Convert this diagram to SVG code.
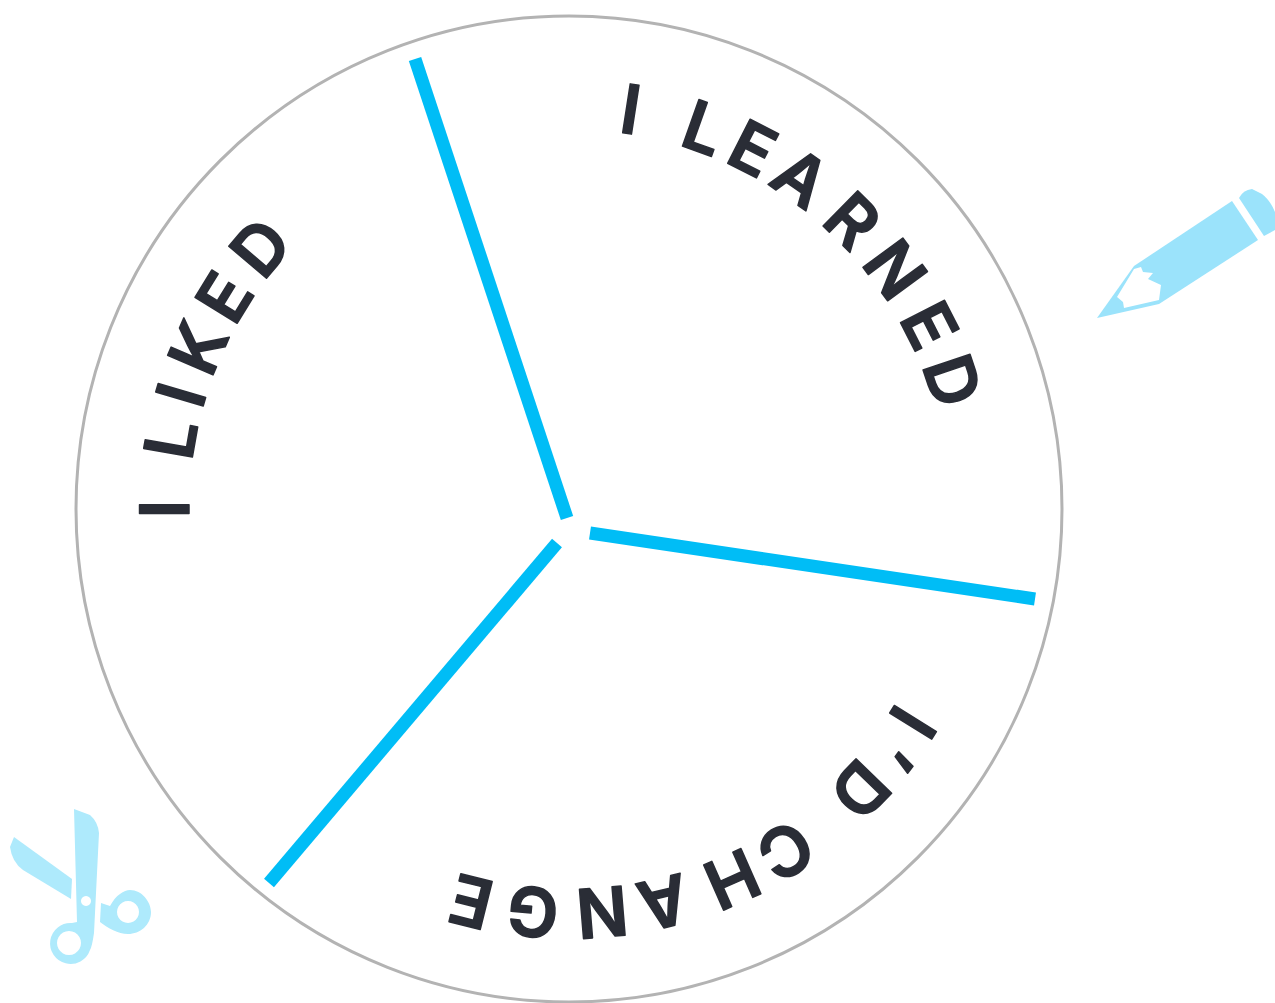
<svg xmlns="http://www.w3.org/2000/svg" width="1275" height="1003" viewBox="0 0 1275 1003">
<style>
.lbl text{font-family:Inter,"Open Sans","Liberation Sans",sans-serif;font-weight:600;font-size:68px;fill:#2a2d36;stroke:#2a2d36;stroke-width:1.5;stroke-linejoin:round;text-anchor:middle;text-rendering:geometricPrecision}
.div{stroke:#00bdf6;stroke-width:13;fill:none}
.sc{fill:#aeeafc}
.pc{fill:#9be3fb}
</style>
<rect width="1275" height="1003" fill="#fff"/>
<g id="wheel"><circle cx="569" cy="509" r="493" fill="#fff" stroke="#b3b3b3" stroke-width="3"/></g>
<g id="connectors">
<line class="div" x1="415" y1="59" x2="567" y2="518"/>
<line class="div" x1="590" y1="533" x2="1035" y2="599"/>
<line class="div" x1="557" y1="543" x2="269" y2="883"/>
</g>
<g id="label-liked" class="lbl">
<text x="569" y="129" transform="rotate(270 569 509)">I</text>
<text x="569" y="129" transform="rotate(280 569 509)">L</text>
<text x="569" y="129" transform="rotate(286.4 569 509)">I</text>
<text x="569" y="129" transform="rotate(293.5 569 509)">K</text>
<text x="569" y="129" transform="rotate(301.6 569 509)">E</text>
<text x="569" y="129" transform="rotate(310.3 569 509)">D</text>
</g>
<g id="label-learned" class="lbl">
<text x="569" y="129" transform="rotate(8.8 569 509)">I</text>
<text x="569" y="129" transform="rotate(19.5 569 509)">L</text>
<text x="569" y="129" transform="rotate(27 569 509)">E</text>
<text x="569" y="129" transform="rotate(35 569 509)">A</text>
<text x="569" y="129" transform="rotate(44.5 569 509)">R</text>
<text x="569" y="129" transform="rotate(53.7 569 509)">N</text>
<text x="569" y="129" transform="rotate(63 569 509)">E</text>
<text x="569" y="129" transform="rotate(71.5 569 509)">D</text>
</g>
<g id="label-change" class="lbl">
<text x="569" y="129" transform="rotate(121.8 569 509)">I</text>
<text x="569" y="129" transform="rotate(127 569 509)">’</text>
<text x="569" y="129" transform="rotate(134 569 509)">D</text>
<text x="569" y="129" transform="rotate(147.6 569 509)">C</text>
<text x="569" y="129" transform="rotate(156.2 569 509)">H</text>
<text x="569" y="129" transform="rotate(166.5 569 509)">A</text>
<text x="569" y="129" transform="rotate(175.3 569 509)">N</text>
<text x="569" y="129" transform="rotate(185.1 569 509)">G</text>
<text x="569" y="129" transform="rotate(194 569 509)">E</text>
</g>
<g id="pencil">
<path class="pc" d="M1097 318L1134 266L1232 201L1258 240L1159 304Z"/>
<path fill="#fff" d="M1141 267L1143 272L1153 273L1148 279L1161 285L1159 300L1124 308L1123 302L1117 297L1134 269Z"/>
<path class="pc" d="M1239 198Q1243 190 1252 189L1262 194Q1270 200 1275 212V230L1264 236Z"/>
</g>
<g id="scissors">
<path class="sc" fill-rule="evenodd" d="M74 809L90 815Q98 822 99 833L94 933Q92 947 90 950A20.500 20.500 0 1 1 72 923L77 922ZM86 896a5 5 0 1 0 .01 0ZM69 931a12 12 0 1 0 .01 0Z"/>
<path class="sc" d="M14 837L72 879L71 899L23 870Q12 862 10 847Z"/>
<path class="sc" fill-rule="evenodd" d="M101 903L110 906C116 895 124 890 130 890C142 890 151 902 151 912C151 925 140 934 128 934C118 934 108 928 100 922ZM128 901a11 11 0 1 0 .01 0Z"/>
</g>
</svg>
